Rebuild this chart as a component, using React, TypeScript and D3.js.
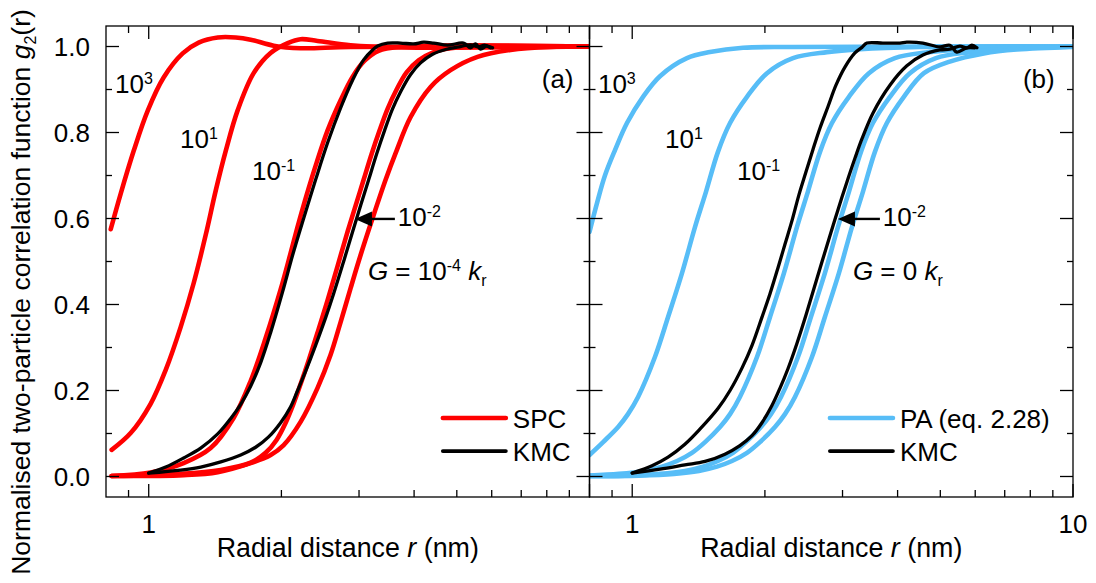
import React from 'react';
import * as d3 from 'd3';

// ---------- Panel (a): SPC (G = 1e-4 kr) ----------
const spcA3R = [0.82, 0.864, 0.925, 0.995, 1.081, 1.194, 1.298, 1.434, 1.575, 1.703, 1.921, 2.211, 2.871, 10];
const spcA3G = [0.575, 0.658, 0.758, 0.851, 0.928, 0.984, 1.009, 1.021, 1.021, 1.016, 1.002, 0.996, 0.999, 1.0];

const spcA1R = [0.824, 0.91, 1.01, 1.093, 1.182, 1.265, 1.347, 1.42, 1.497, 1.592, 1.73, 1.89, 2.067, 2.211, 2.416, 2.871, 3.728, 10];
const spcA1G = [0.062, 0.101, 0.169, 0.248, 0.348, 0.45, 0.562, 0.666, 0.759, 0.852, 0.938, 0.985, 1.008, 1.017, 1.013, 1.003, 0.998, 1.0];

const spcAm1R = [0.824, 1.01, 1.2, 1.382, 1.558, 1.703, 1.842, 1.992, 2.099, 2.189, 2.282, 2.404, 2.546, 2.725, 2.902, 3.089, 3.323, 3.689, 10];
const spcAm1G = [0.001, 0.009, 0.031, 0.066, 0.136, 0.222, 0.322, 0.435, 0.52, 0.59, 0.655, 0.73, 0.805, 0.875, 0.93, 0.967, 0.99, 0.999, 1.0];

const spcAm2R = [0.824, 1.182, 1.457, 1.703, 1.842, 1.95, 2.045, 2.132, 2.211, 2.306, 2.416, 2.546, 2.683, 2.827, 2.947, 3.073, 3.204, 3.341, 3.483, 3.651, 3.846, 4.095, 4.406, 4.839, 5.66, 10];
const spcAm2G = [0.001, 0.006, 0.015, 0.032, 0.055, 0.085, 0.125, 0.17, 0.215, 0.27, 0.335, 0.41, 0.49, 0.57, 0.63, 0.69, 0.75, 0.805, 0.855, 0.9, 0.94, 0.968, 0.986, 0.996, 1.0, 1.0];

const spcAlowR = [0.824, 1.2, 1.434, 1.703, 1.891, 2.024, 2.211, 2.416, 2.586, 2.725, 2.871, 3.025, 3.221, 3.447, 3.632, 3.928, 4.36, 4.839, 5.572, 6.622, 8.158, 10];
const spcAlowG = [0.001, 0.003, 0.01, 0.031, 0.05, 0.073, 0.127, 0.206, 0.283, 0.359, 0.438, 0.515, 0.601, 0.69, 0.752, 0.836, 0.906, 0.945, 0.976, 0.992, 0.999, 1.0];

const kmcAm1R = [1.0, 1.093, 1.2, 1.312, 1.434, 1.535, 1.617, 1.703, 1.795, 1.891, 2.013, 2.121, 2.246, 2.391, 2.546, 2.725, 2.902, 3.073, 3.221, 3.306, 3.483, 3.728, 3.99, 4.203, 4.429, 4.764, 5.18, 5.373, 5.513, 5.66, 5.84, 6.026];
const kmcAm1G = [0.008, 0.022, 0.043, 0.066, 0.099, 0.135, 0.168, 0.21, 0.265, 0.335, 0.43, 0.515, 0.6, 0.69, 0.776, 0.857, 0.922, 0.969, 0.992, 1.001, 1.008, 1.008, 1.006, 1.01, 1.008, 1.003, 1.008, 0.997, 1.006, 0.994, 1.001, 0.997];

const kmcAm2R = [1.0, 1.182, 1.312, 1.457, 1.617, 1.748, 1.871, 1.992, 2.099, 2.177, 2.27, 2.391, 2.521, 2.627, 2.768, 2.902, 3.025, 3.155, 3.289, 3.429, 3.574, 3.728, 3.928, 4.138, 4.406, 4.716, 5.099, 5.373, 5.602, 5.78, 5.965];
const kmcAm2G = [0.008, 0.015, 0.022, 0.034, 0.05, 0.068, 0.092, 0.125, 0.162, 0.2, 0.245, 0.305, 0.37, 0.425, 0.5, 0.57, 0.63, 0.69, 0.75, 0.805, 0.855, 0.895, 0.935, 0.962, 0.982, 0.993, 1.0, 1.004, 0.999, 1.003, 0.997];

// ---------- Panel (b): PA (G = 0 kr) ----------
const paB3R = [0.8, 0.832, 0.868, 0.914, 0.973, 1.058, 1.156, 1.331, 1.501, 1.784, 2.316, 10];
const paB3G = [0.569, 0.636, 0.701, 0.759, 0.822, 0.883, 0.931, 0.973, 0.987, 0.997, 0.999, 1.0];

const paB1R = [0.8, 0.859, 0.929, 0.978, 1.031, 1.126, 1.206, 1.297, 1.388, 1.47, 1.565, 1.667, 1.821, 2.022, 2.316, 2.765, 3.286, 4.494, 10];
const paB1G = [0.05, 0.08, 0.115, 0.145, 0.185, 0.278, 0.371, 0.473, 0.58, 0.662, 0.755, 0.822, 0.883, 0.938, 0.973, 0.987, 0.994, 0.999, 1.0];

const paBm1R = [0.8, 0.933, 1.064, 1.168, 1.264, 1.366, 1.463, 1.582, 1.667, 1.755, 1.919, 2.054, 2.209, 2.364, 2.503, 2.667, 2.839, 3.102, 3.443, 3.944, 4.71, 5.597, 7.65, 10];
const paBm1G = [0.002, 0.006, 0.013, 0.023, 0.036, 0.055, 0.08, 0.115, 0.145, 0.185, 0.278, 0.371, 0.473, 0.58, 0.662, 0.755, 0.822, 0.883, 0.938, 0.973, 0.987, 0.994, 0.999, 1.0];

const paBm2R = [0.8, 0.963, 1.156, 1.317, 1.447, 1.565, 1.693, 1.811, 1.959, 2.064, 2.175, 2.377, 2.543, 2.736, 2.929, 3.102, 3.303, 3.516, 3.843, 4.265, 4.886, 5.834, 6.93, 9.48, 10];
const paBm2G = [0.001, 0.002, 0.006, 0.013, 0.023, 0.036, 0.055, 0.08, 0.115, 0.145, 0.185, 0.278, 0.371, 0.473, 0.58, 0.662, 0.755, 0.822, 0.883, 0.938, 0.973, 0.987, 0.994, 0.999, 1.0];

const paBlowR = [0.8, 1.036, 1.244, 1.417, 1.557, 1.684, 1.821, 1.949, 2.108, 2.221, 2.34, 2.557, 2.736, 2.944, 3.151, 3.337, 3.553, 3.782, 4.133, 4.589, 5.255, 6.276, 7.458, 10];
const paBlowG = [0.0008, 0.002, 0.006, 0.013, 0.023, 0.036, 0.055, 0.08, 0.115, 0.145, 0.185, 0.278, 0.371, 0.473, 0.58, 0.662, 0.755, 0.822, 0.883, 0.938, 0.965, 0.984, 0.993, 0.999];

const kmcBm1R = [1.0, 1.109, 1.206, 1.317, 1.424, 1.565, 1.667, 1.774, 1.87, 1.969, 2.054, 2.141, 2.221, 2.304, 2.389, 2.478, 2.57, 2.666, 2.78, 2.899, 3.038, 3.201, 3.32, 3.408, 3.705, 4.049, 4.198, 4.565, 4.989, 5.255, 5.451, 5.743, 5.988];
const kmcBm1G = [0.008, 0.025, 0.045, 0.075, 0.11, 0.158, 0.2, 0.252, 0.305, 0.37, 0.425, 0.485, 0.54, 0.595, 0.655, 0.708, 0.76, 0.81, 0.86, 0.91, 0.952, 0.985, 0.998, 1.008, 1.008, 1.008, 1.01, 1.008, 0.999, 1.003, 0.987, 0.997, 0.997];

const kmcBm2R = [1.0, 1.156, 1.317, 1.463, 1.623, 1.755, 1.87, 1.969, 2.075, 2.163, 2.255, 2.365, 2.478, 2.624, 2.809, 2.929, 3.07, 3.201, 3.32, 3.516, 3.843, 4.198, 4.565, 4.989, 5.255, 5.538, 5.743, 5.896, 6.053];
const kmcBm2G = [0.008, 0.017, 0.027, 0.035, 0.052, 0.072, 0.095, 0.125, 0.165, 0.205, 0.25, 0.31, 0.375, 0.46, 0.56, 0.62, 0.685, 0.74, 0.785, 0.845, 0.91, 0.955, 0.98, 0.992, 0.994, 1.001, 0.997, 1.003, 0.997];

// ---------- Axes ----------
const yMajor = [0, 0.2, 0.4, 0.6, 0.8, 1.0];
const yMinor = [0.1, 0.3, 0.5, 0.7, 0.9];
const xMajor = [1, 10];
const xMinor = [0.9, 2, 3, 4, 5, 6, 7, 8, 9];

const RED = '#ff0000';
const BLUE = '#57bdf7';
const BLACK = '#000000';
const FONT = "'Liberation Sans', Arial, Helvetica, sans-serif";
const FS = 26;
const SUP = 16;

const W = 1096;
const H = 583;
const TOP = 26;
const BOTTOM = 497;

const yScale = d3.scaleLinear().domain([-0.0477, 1.0477]).range([BOTTOM, TOP]);
const xA = d3.scaleLog().domain([0.8, 10]).range([106, 589.5]);
const xB = d3.scaleLog().domain([0.8, 10]).range([589.5, 1073]);

const zip = (r: number[], g: number[]) => r.map((v, i) => [v, g[i]] as [number, number]);

const CW = 4.6;
const KW = 3.3;

const panelA = [
  { pts: zip(spcA3R, spcA3G), color: RED, w: CW },
  { pts: zip(spcA1R, spcA1G), color: RED, w: CW },
  { pts: zip(spcAm1R, spcAm1G), color: RED, w: CW },
  { pts: zip(spcAm2R, spcAm2G), color: RED, w: CW },
  { pts: zip(spcAlowR, spcAlowG), color: RED, w: CW },
  { pts: zip(kmcAm1R, kmcAm1G), color: BLACK, w: KW },
  { pts: zip(kmcAm2R, kmcAm2G), color: BLACK, w: KW },
];
const panelB = [
  { pts: zip(paB3R, paB3G), color: BLUE, w: CW },
  { pts: zip(paB1R, paB1G), color: BLUE, w: CW },
  { pts: zip(paBm1R, paBm1G), color: BLUE, w: CW },
  { pts: zip(paBm2R, paBm2G), color: BLUE, w: CW },
  { pts: zip(paBlowR, paBlowG), color: BLUE, w: CW },
  { pts: zip(kmcBm1R, kmcBm1G), color: BLACK, w: KW },
  { pts: zip(kmcBm2R, kmcBm2G), color: BLACK, w: KW },
];

function Frame({ x, showTen }: { x: d3.ScaleLogarithmic<number, number>; showTen: boolean }) {
  const [x0, x1] = x.range();
  const sw = 1.3;
  const els: React.ReactNode[] = [];
  yMajor.forEach((v, i) => {
    const y = yScale(v);
    els.push(<line key={'yl' + i} x1={x0} x2={x0 + 13} y1={y} y2={y} stroke="#000" strokeWidth={sw} />);
    els.push(<line key={'yr' + i} x1={x1} x2={x1 - 13} y1={y} y2={y} stroke="#000" strokeWidth={sw} />);
  });
  yMinor.forEach((v, i) => {
    const y = yScale(v);
    els.push(<line key={'yml' + i} x1={x0} x2={x0 + 6} y1={y} y2={y} stroke="#000" strokeWidth={sw} />);
    els.push(<line key={'ymr' + i} x1={x1} x2={x1 - 6} y1={y} y2={y} stroke="#000" strokeWidth={sw} />);
  });
  xMajor.forEach((v, i) => {
    const xx = x(v);
    els.push(<line key={'xb' + i} x1={xx} x2={xx} y1={BOTTOM} y2={BOTTOM - 13} stroke="#000" strokeWidth={sw} />);
    els.push(<line key={'xt' + i} x1={xx} x2={xx} y1={TOP} y2={TOP + 13} stroke="#000" strokeWidth={sw} />);
  });
  xMinor.forEach((v, i) => {
    const xx = x(v);
    els.push(<line key={'xmb' + i} x1={xx} x2={xx} y1={BOTTOM} y2={BOTTOM - 7} stroke="#000" strokeWidth={sw} />);
    els.push(<line key={'xmt' + i} x1={xx} x2={xx} y1={TOP} y2={TOP + 7} stroke="#000" strokeWidth={sw} />);
  });
  return (
    <g>
      {els}
      <rect x={x0} y={TOP} width={x1 - x0} height={BOTTOM - TOP} fill="none" stroke="#000" strokeWidth={sw} />
      <text x={x(1)} y={533} textAnchor="middle" fontSize={FS} fontFamily={FONT}>1</text>
      {showTen && <text x={x(10)} y={533} textAnchor="middle" fontSize={FS} fontFamily={FONT}>10</text>}
      <text x={(x0 + x1) / 2} y={557} textAnchor="middle" fontSize={26.8} fontFamily={FONT}>
        Radial distance <tspan fontStyle="italic">r</tspan> (nm)
      </text>
    </g>
  );
}

function Curves({ x, series, clipId }: { x: any; series: any[]; clipId: string }) {
  const line = d3
    .line<[number, number]>()
    .x((d) => x(d[0]))
    .y((d) => yScale(d[1]))
    .curve(d3.curveCatmullRom.alpha(0.5));
  return (
    <g clipPath={`url(#${clipId})`}>
      {series.map((s, i) => (
        <path key={i} d={line(s.pts) || ''} fill="none" stroke={s.color} strokeWidth={s.w} strokeLinecap="round" strokeLinejoin="round" />
      ))}
    </g>
  );
}

function Pow({ x, y, exp }: { x: number; y: number; exp: string }) {
  return (
    <text x={x} y={y} fontSize={FS} fontFamily={FONT}>
      10<tspan dy={-9} fontSize={SUP}>{exp}</tspan>
    </text>
  );
}

function Arrow({ x, tipR, tailR, g }: { x: any; tipR: number; tailR: number; g: number }) {
  const tx = x(tipR);
  const ex = x(tailR);
  const y = yScale(g);
  return (
    <g>
      <line x1={tx + 14} x2={ex} y1={y} y2={y} stroke="#000" strokeWidth={2.4} />
      <polygon points={`${tx},${y} ${tx + 17},${y - 7.5} ${tx + 17},${y + 7.5}`} fill="#000" />
    </g>
  );
}

function Legend({ x, r0, r1, rt, first, firstColor }: { x: any; r0: number; r1: number; rt: number; first: string; firstColor: string }) {
  const y1 = yScale(0.136);
  const y2 = yScale(0.059);
  return (
    <g fontFamily={FONT} fontSize={FS}>
      <line x1={x(r0)} x2={x(r1)} y1={y1} y2={y1} stroke={firstColor} strokeWidth={CW} strokeLinecap="round" />
      <text x={x(rt)} y={y1 + 9.5}>{first}</text>
      <line x1={x(r0)} x2={x(r1)} y1={y2} y2={y2} stroke={BLACK} strokeWidth={3.8} strokeLinecap="round" />
      <text x={x(rt)} y={y2 + 9.5}>KMC</text>
    </g>
  );
}

export default function App() {
  return (
    <svg width={W} height={H} style={{ position: 'absolute', left: 0, top: 0, background: '#fff' }} fontFamily={FONT}>
      <defs>
        <clipPath id="clipA">
          <rect x={106} y={TOP} width={589.5 - 106} height={BOTTOM - TOP} />
        </clipPath>
        <clipPath id="clipB">
          <rect x={589.5} y={TOP} width={1073 - 589.5} height={BOTTOM - TOP} />
        </clipPath>
      </defs>

      <Curves x={xA} series={panelA} clipId="clipA" />
      <Curves x={xB} series={panelB} clipId="clipB" />

      <Frame x={xA} showTen={false} />
      <Frame x={xB} showTen={true} />

      {yMajor.map((v, i) => (
        <text key={i} x={90} y={yScale(v) + 9.3} textAnchor="end" fontSize={FS} fontFamily={FONT}>
          {v.toFixed(1)}
        </text>
      ))}

      <text transform="translate(30,292) rotate(-90)" textAnchor="middle" fontSize={26.5} fontFamily={FONT}>
        Normalised two-particle correlation function <tspan fontStyle="italic">g</tspan>
        <tspan dy={6} fontSize={SUP}>2</tspan>
        <tspan dy={-6}>(r)</tspan>
      </text>

      {/* Panel (a) annotations */}
      <Pow x={xA(0.839)} y={yScale(0.892)} exp="3" />
      <Pow x={xA(1.178)} y={yScale(0.764)} exp="1" />
      <Pow x={xA(1.715)} y={yScale(0.69)} exp="-1" />
      <Arrow x={xA} tipR={2.937} tailR={3.618} g={0.599} />
      <Pow x={xA(3.674)} y={yScale(0.5826)} exp="-2" />
      <text x={xA(3.142)} y={yScale(0.457)} fontSize={FS} fontFamily={FONT}>
        <tspan fontStyle="italic">G</tspan> = 10<tspan dy={-9} fontSize={SUP}>-4</tspan>
        <tspan dy={9}> </tspan>
        <tspan fontStyle="italic">k</tspan>
        <tspan dy={6} fontSize={SUP}>r</tspan>
      </text>
      <text x={xA(9.2)} y={yScale(0.9035)} textAnchor="end" fontSize={FS} fontFamily={FONT}>(a)</text>
      <Legend x={xA} r0={4.648} r1={6.46} rt={6.7} first="SPC" firstColor={RED} />

      {/* Panel (b) annotations */}
      <Pow x={xB(0.836)} y={yScale(0.892)} exp="3" />
      <Pow x={xB(1.187)} y={yScale(0.764)} exp="1" />
      <Pow x={xB(1.729)} y={yScale(0.69)} exp="-1" />
      <Arrow x={xB} tipR={2.929} tailR={3.647} g={0.599} />
      <Pow x={xB(3.703)} y={yScale(0.5826)} exp="-2" />
      <text x={xB(3.167)} y={yScale(0.457)} fontSize={FS} fontFamily={FONT}>
        <tspan fontStyle="italic">G</tspan> = 0 <tspan fontStyle="italic">k</tspan>
        <tspan dy={6} fontSize={SUP}>r</tspan>
      </text>
      <text x={xB(9.09)} y={yScale(0.9035)} textAnchor="end" fontSize={FS} fontFamily={FONT}>(b)</text>
      <Legend x={xB} r0={2.809} r1={3.904} rt={4.048} first="PA (eq. 2.28)" firstColor={BLUE} />
    </svg>
  );
}
